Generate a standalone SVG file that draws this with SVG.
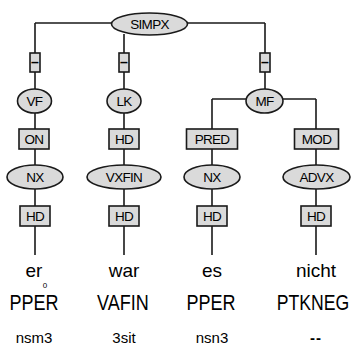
<svg xmlns="http://www.w3.org/2000/svg" width="354" height="349" viewBox="0 0 354 349">
<style>
.e{fill:#dadada;stroke:#1a1a1a;stroke-width:1.6}
.b{fill:#dadada;stroke:#1a1a1a;stroke-width:1.6}
.l{fill:none;stroke:#1a1a1a;stroke-width:1.6}
.t{font-family:"Liberation Sans",Arial,sans-serif;font-size:13.5px;fill:#000;text-anchor:middle;letter-spacing:-0.7px}
.d{font-family:"Liberation Sans",Arial,sans-serif;font-size:14px;font-weight:bold;fill:#000;text-anchor:middle}
.w{font-family:"Liberation Sans",Arial,sans-serif;font-size:19px;fill:#000;text-anchor:middle}
.p{font-family:"Liberation Sans",Arial,sans-serif;font-size:22px;fill:#000;text-anchor:middle}
.m{font-family:"Liberation Sans",Arial,sans-serif;font-size:15px;fill:#000;text-anchor:middle}
</style>
<rect width="354" height="349" fill="#fff"/>
<g id="connectors">
<path class="l" d="M35,23 H265 M35,23 V53 M35,72 V89 M35,113 V129 M35,149 V165 M35,189 V206 M35,226 V255"/>
<path class="l" d="M124,34 V53 M124,72 V89 M124,113 V129 M124,149 V165 M124,189 V206 M124,226 V255"/>
<path class="l" d="M265,23 V53 M265,72 V89 M212,99 H316 M212,99 V129 M212,149 V165 M212,189 V206 M212,226 V255"/>
<path class="l" d="M316,99 V129 M316,149 V165 M316,189 V206 M316,226 V255"/>
</g>
<g id="SIMPX"><ellipse class="e" cx="149.5" cy="24" rx="38" ry="11"/><text class="t" x="149.5" y="28.5">SIMPX</text></g>
<g id="e1"><rect class="b" x="30" y="53" width="10" height="19"/><text class="d" x="35" y="67">–</text></g>
<g id="e2"><rect class="b" x="119" y="53" width="10" height="19"/><text class="d" x="124" y="67">–</text></g>
<g id="e3"><rect class="b" x="260" y="53" width="10" height="19"/><text class="d" x="265" y="67">–</text></g>
<g id="VF"><ellipse class="e" cx="34.5" cy="101" rx="17" ry="12"/><text class="t" x="34.5" y="106">VF</text></g>
<g id="LK"><ellipse class="e" cx="124" cy="101" rx="17" ry="12"/><text class="t" x="124" y="106">LK</text></g>
<g id="MF"><ellipse class="e" cx="264.5" cy="101" rx="18.5" ry="12"/><text class="t" x="264.5" y="106">MF</text></g>
<g id="ON"><rect class="b" x="19" y="129" width="30" height="20"/><text class="t" x="34" y="144">ON</text></g>
<g id="HD1"><rect class="b" x="109" y="129" width="30" height="20"/><text class="t" x="124" y="144">HD</text></g>
<g id="PRED"><rect class="b" x="186.5" y="129" width="51" height="20"/><text class="t" x="212" y="144">PRED</text></g>
<g id="MOD"><rect class="b" x="294.5" y="129" width="44" height="20"/><text class="t" x="316.5" y="144">MOD</text></g>
<g id="NX1"><ellipse class="e" cx="35" cy="177" rx="28" ry="12"/><text class="t" x="35" y="182">NX</text></g>
<g id="VXFIN"><ellipse class="e" cx="124" cy="177" rx="37" ry="12"/><text class="t" x="124" y="182">VXFIN</text></g>
<g id="NX2"><ellipse class="e" cx="212" cy="177" rx="28" ry="12"/><text class="t" x="212" y="182">NX</text></g>
<g id="ADVX"><ellipse class="e" cx="316.5" cy="177" rx="33.5" ry="12"/><text class="t" x="316.5" y="182">ADVX</text></g>
<g id="HD2"><rect class="b" x="20" y="206" width="30" height="20"/><text class="t" x="35" y="221">HD</text></g>
<g id="HD3"><rect class="b" x="109" y="206" width="30" height="20"/><text class="t" x="124" y="221">HD</text></g>
<g id="HD4"><rect class="b" x="197" y="206" width="30" height="20"/><text class="t" x="212" y="221">HD</text></g>
<g id="HD5"><rect class="b" x="301" y="206" width="30" height="20"/><text class="t" x="316" y="221">HD</text></g>
<g id="tokens">
<text class="w" x="34" y="277">er</text>
<text x="45" y="288" font-family="Liberation Sans,Arial,sans-serif" font-size="8" text-anchor="middle">0</text>
<text class="w" x="124" y="277">war</text>
<text class="w" x="212" y="277">es</text>
<text class="w" x="316" y="277">nicht</text>
<text class="p" transform="translate(34,310) scale(0.82,1)">PPER</text>
<text class="p" transform="translate(123,310) scale(0.82,1)">VAFIN</text>
<text class="p" transform="translate(211,310) scale(0.82,1)">PPER</text>
<text class="p" transform="translate(313,310) scale(0.8,1)">PTKNEG</text>
<text class="m" x="34" y="343">nsm3</text>
<text class="m" x="124" y="343">3sit</text>
<text class="m" x="212" y="343">nsn3</text>
<text class="m" x="316" y="343" font-weight="bold" font-size="20" letter-spacing="1">--</text>
</g>
</svg>
